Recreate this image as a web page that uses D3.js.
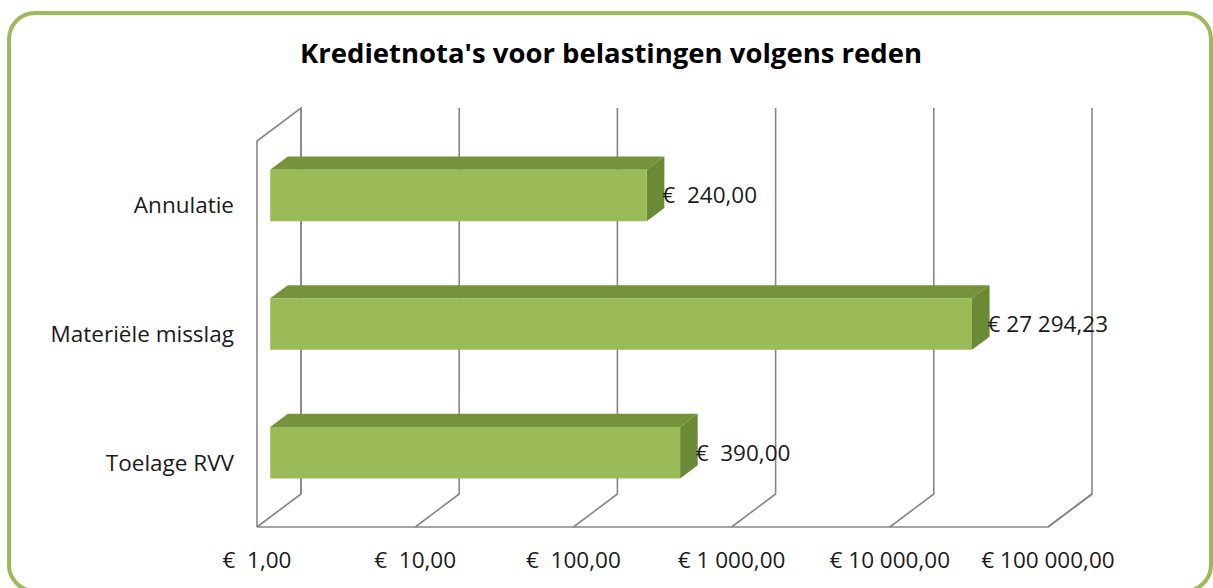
<!DOCTYPE html>
<html>
<head>
<meta charset="utf-8">
<script src="https://cdn.jsdelivr.net/npm/d3@7"></script>
<style>
	body { margin: 0; background: #fff; }
	svg text { font-family: "Open Sans", Lato, sans-serif; white-space: pre; }
</style>
</head>
<body>
<div id="chart"></div>
<script>
var categories = ["Annulatie", "Materiële misslag", "Toelage RVV"];
var values = [240, 27294.23, 390];
var valueLabels = ["€  240,00", "€ 27 294,23", "€  390,00"];
var tickValues = [1, 10, 100, 1000, 10000, 100000];
var tickLabels = ["€  1,00", "€  10,00", "€  100,00", "€ 1 000,00", "€ 10 000,00", "€ 100 000,00"];
var title = "Kredietnota's voor belastingen volgens reden";

var width = 1213, height = 588;
var front = { left: 257, right: 1048, top: 141, bottom: 527 };
var DX = 44, DY = -33;		// depth of the 3d box
var barDepth = [0.3, 0.7];	// bars sit in the middle of the box
var fontSize = "22.5px";

var svg = d3.select("#chart").append("svg")
	.attr("width", width)
	.attr("height", height);

svg.append("rect")
	.attr("x", 9).attr("y", 13)
	.attr("width", 1202).attr("height", 578)
	.attr("rx", 26).attr("ry", 26)
	.style("fill", "#fff")
	.style("stroke", "#9bbb59")
	.style("stroke-width", 4);

svg.append("text")
	.attr("x", 611).attr("y", 63)
	.attr("text-anchor", "middle")
	.style("font-size", "27.5px")
	.style("font-weight", "bold")
	.style("fill", "#000")
	.text(title);

var x = d3.scaleLog().domain([1, 100000]).range([front.left, front.right]);
var y = d3.scaleBand().domain(categories).range([front.top, front.bottom])
	.paddingInner(0.6).paddingOuter(0.3);

var pt = function(_x, _y, _d)	{
	return [_x + _d * DX, _y + _d * DY];
};

var line = d3.line();
var grid = svg.append("g").attr("class", "walls")
	.style("fill", "none")
	.style("stroke", "#878787")
	.style("stroke-width", 1.6);

// side wall
grid.append("path").attr("d", line([
	pt(x(1), front.bottom, 0), pt(x(1), front.top, 0),
	pt(x(1), front.top, 1), pt(x(1), front.bottom, 1)
]));

// floor outline
grid.append("path").attr("d", line([
	pt(x(1), front.bottom, 0), pt(x(100000), front.bottom, 0),
	pt(x(100000), front.bottom, 1)
]));

// back wall gridlines and floor diagonals
tickValues.forEach(function(_v)	{
	grid.append("path").attr("d", line([
		pt(x(_v), front.bottom, 0), pt(x(_v), front.bottom, 1), pt(x(_v), front.top, 1)
	]));
});

// bars
var bars = svg.append("g").attr("class", "bars");
categories.forEach(function(_c, i)	{
	var x0 = x(1), x1 = x(values[i]);
	var y0 = y(_c), y1 = y(_c) + y.bandwidth();
	var d0 = barDepth[0], d1 = barDepth[1];

	bars.append("path")
		.style("fill", "#76933c")
		.attr("d", line([pt(x0, y0, d0), pt(x1, y0, d0), pt(x1, y0, d1), pt(x0, y0, d1)]) + "Z");
	bars.append("path")
		.style("fill", "#6a8a35")
		.attr("d", line([pt(x1, y0, d0), pt(x1, y1, d0), pt(x1, y1, d1), pt(x1, y0, d1)]) + "Z");
	bars.append("path")
		.style("fill", "#9bbb59")
		.attr("d", line([pt(x0, y0, d0), pt(x1, y0, d0), pt(x1, y1, d0), pt(x0, y1, d0)]) + "Z");

	var lp = pt(x1, (y0 + y1) / 2, d1);
	bars.append("text")
		.attr("x", lp[0] - 2)
		.attr("y", (y0 + y1) / 2 + DY * d0 + 8)
		.style("font-size", fontSize)
		.style("fill", "#1a1a1a")
		.text(valueLabels[i]);
});

// category labels
svg.append("g").selectAll("text")
	.data(categories)
	.enter().append("text")
	.attr("x", 234)
	.attr("y", function(_d) { return y(_d) + y.bandwidth() / 2 + 8; })
	.attr("text-anchor", "end")
	.style("font-size", fontSize)
	.style("fill", "#1a1a1a")
	.text(function(_d) { return _d; });

// value axis labels
svg.append("g").selectAll("text")
	.data(tickValues)
	.enter().append("text")
	.attr("x", function(_d) { return x(_d); })
	.attr("y", 568)
	.attr("text-anchor", "middle")
	.style("font-size", fontSize)
	.style("fill", "#1a1a1a")
	.text(function(_d, i) { return tickLabels[i]; });
</script>
</body>
</html>
